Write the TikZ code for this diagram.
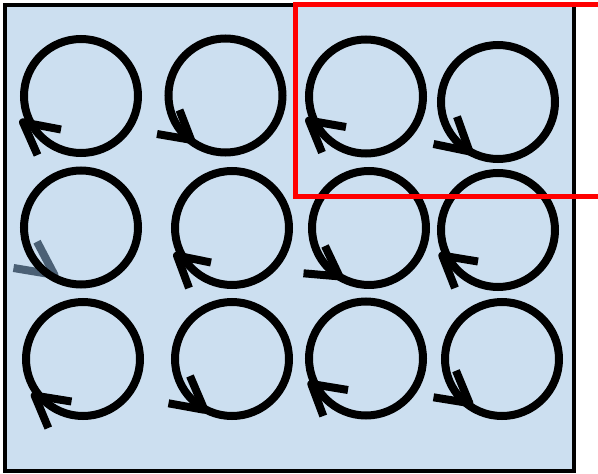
\documentclass[tikz,border=0pt]{standalone}
\definecolor{bg}{RGB}{204,223,240}
\definecolor{headgray}{RGB}{75,96,117}
\begin{document}
\begin{tikzpicture}[x=1pt,y=-1pt,
  ring/.style={line width=8pt},
  headline/.style={line width=8pt, line join=round},
  frame/.style={line width=4pt, fill=bg},
  marker/.style={draw=red, line width=5pt}]
\useasboundingbox (0,0) rectangle (598,474);
\clip (0,0) rectangle (598,474);
\draw[frame] (5.3,5.3) rectangle (573.8,471.3);
% gray arrow head behind the circle
\draw[headline, headgray] (13.5,268) -- (54.4,274.8) -- (37,241.7);
% circles
\foreach \n/\x/\y in {c11/81/96, c12/225.5/95.5, c13/366/96.5, c14/498/102,
                      c21/81/227.5, c22/232/228, c23/369/228, c24/498/230,
                      c31/83/359, c32/232/359, c33/366/358.5, c34/502/359}{
  \coordinate (\n) at (\x,\y);
  \draw[ring] (\n) circle[radius=57];
}
% arrow heads type A (pointing up-left)
\draw[headline] (61,129.5) -- (23,122.3) -- (37.5,155);
\draw[headline] (346,127) -- (309,120.6) -- (322,152.5);
\draw[headline] (211,262.5) -- (177,255.6) -- (189,288);
\draw[headline] (478,261.5) -- (442.3,255.6) -- (455,288);
\draw[headline] (71.5,401.5) -- (34.7,395.6) -- (48.3,428);
\draw[headline] (348,390) -- (311.3,384) -- (323.3,416);
% arrow heads type B (pointing down-right)
\draw[headline] (157,134) -- (191,139.8) -- (179.5,110);
\draw[headline] (433.5,144) -- (469.4,151.4) -- (457,116.7);
\draw[headline] (303.5,273.3) -- (339.4,276.4) -- (325,246);
\draw[headline] (168.5,403.3) -- (204.4,409.8) -- (190,376);
\draw[headline] (433.5,397.3) -- (469.4,403.1) -- (456,370.7);
% red marker rectangle
\draw[marker] (295,4.8) rectangle (610,196);
\end{tikzpicture}
\end{document}
